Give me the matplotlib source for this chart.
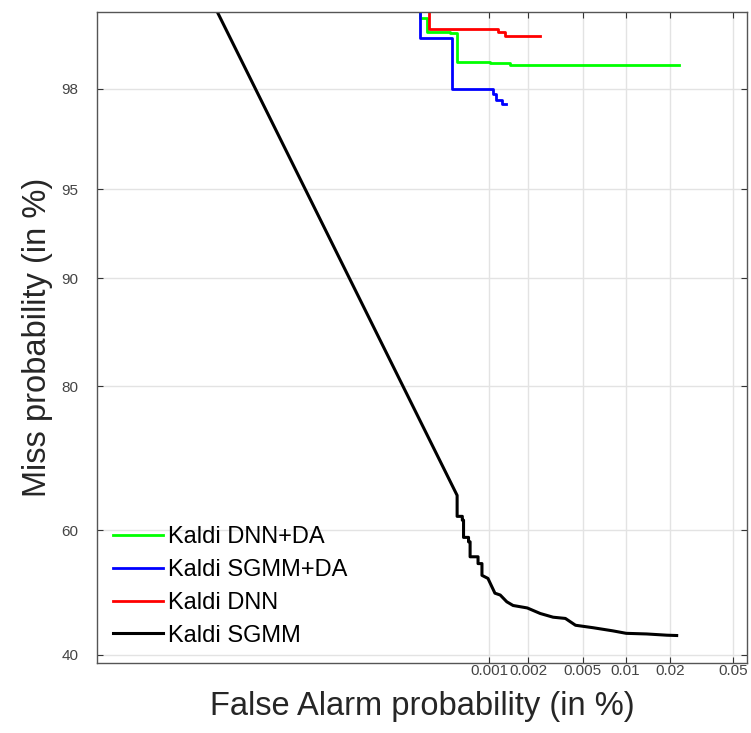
from statistics import NormalDist
import numpy as np
import matplotlib
matplotlib.use("Agg")
import matplotlib.pyplot as plt

# DET curves, all values in %
dnn_da_fa = [0.00028, 0.00028, 0.00032, 0.00032, 0.00049, 0.00049, 0.00056, 0.00056,
             0.00101, 0.00101, 0.00144, 0.00144, 0.0228]
dnn_da_miss = [99.2, 99.04, 99.04, 98.89, 98.89, 98.87, 98.87, 98.48,
               98.48, 98.46, 98.46, 98.42, 98.42]

sgmm_da_fa = [0.00028, 0.00028, 0.00051, 0.00051, 0.00107, 0.00107, 0.00114, 0.00114,
              0.00127, 0.00127, 0.00135]
sgmm_da_miss = [99.2, 98.81, 98.81, 98.0, 98.0, 97.9, 97.9, 97.77, 97.77, 97.69, 97.69]

dnn_fa = [0.00033, 0.00033, 0.00117, 0.00117, 0.00132, 0.00132, 0.00244]
dnn_miss = [99.2, 98.92, 98.92, 98.89, 98.89, 98.84, 98.84]

sgmm_fa = [0.0000039, 0.00056, 0.00056, 0.000616, 0.000616, 0.00063, 0.00063, 0.00069,
           0.00069, 0.00071, 0.00071, 0.00082, 0.00082, 0.00088, 0.00088, 0.00098,
           0.00111, 0.00122, 0.00137, 0.00153, 0.00196, 0.00245,
           0.00305, 0.00375, 0.00444, 0.00594, 0.00815, 0.0101, 0.0139, 0.019, 0.022]
sgmm_miss = [99.2, 65.4, 62.2, 62.2, 61.6, 61.6, 58.9, 58.9,
             58.2, 58.2, 55.8, 55.8, 54.7, 54.7, 52.8, 52.3,
             49.9, 49.6, 48.5, 47.9, 47.5, 46.6,
             46.0, 45.8, 44.7, 44.3, 43.8, 43.4, 43.3, 43.1, 43.05]

x_ticks = [0.001, 0.002, 0.005, 0.01, 0.02, 0.05]
y_ticks = [40, 60, 80, 90, 95, 98]
x_lim = [2.7e-7, 0.0615]
y_lim = [38.7, 99.1]

nd = NormalDist()


def probit(vals):
    # percent -> normal deviate
    return np.array([nd.inv_cdf(v / 100.0) for v in vals])


plt.rcParams['font.family'] = ['Liberation Sans', 'DejaVu Sans']

fig = plt.figure(figsize=(7.51, 7.33), dpi=100)
ax = fig.add_axes([0.1285, 0.0955, 0.8668, 0.8877])

ax.plot(probit(dnn_da_fa), probit(dnn_da_miss), color=(0, 1, 0), lw=2.0, label="Kaldi DNN+DA")
ax.plot(probit(sgmm_da_fa), probit(sgmm_da_miss), color=(0, 0, 1), lw=2.0, label="Kaldi SGMM+DA")
ax.plot(probit(dnn_fa), probit(dnn_miss), color=(1, 0, 0), lw=2.0, label="Kaldi DNN")
ax.plot(probit(sgmm_fa), probit(sgmm_miss), color="black", lw=2.2, label="Kaldi SGMM")

ax.set_xlim(probit(x_lim))
ax.set_ylim(probit(y_lim))
ax.set_xticks(probit(x_ticks))
ax.set_xticklabels([str(t) for t in x_ticks])
ax.set_yticks(probit(y_ticks))
ax.set_yticklabels([str(t) for t in y_ticks])

ax.grid(color="#e3e3e3", linewidth=1.0)
ax.set_axisbelow(True)
for s in ax.spines.values():
    s.set_color("#555555")
    s.set_linewidth(1.0)
ax.tick_params(direction="in", length=4, width=0.8, color="#333333",
               labelcolor="#444444", labelsize=11,
               top=True, right=True)
ax.tick_params(axis="y", pad=13)
ax.tick_params(axis="x", pad=0.5)

ax.set_xlabel("False Alarm probability (in %)", fontsize=23.5, color="#262626", labelpad=9.5)
ax.set_ylabel("Miss probability (in %)", fontsize=23.5, color="#262626", labelpad=6)

ax.legend(loc="lower left", bbox_to_anchor=(0.025, 0.025), frameon=False,
          fontsize=17, handlelength=2.12, handletextpad=0.2, labelspacing=0.46,
          borderpad=0, borderaxespad=0)

fig.savefig("out.png", dpi=100)
